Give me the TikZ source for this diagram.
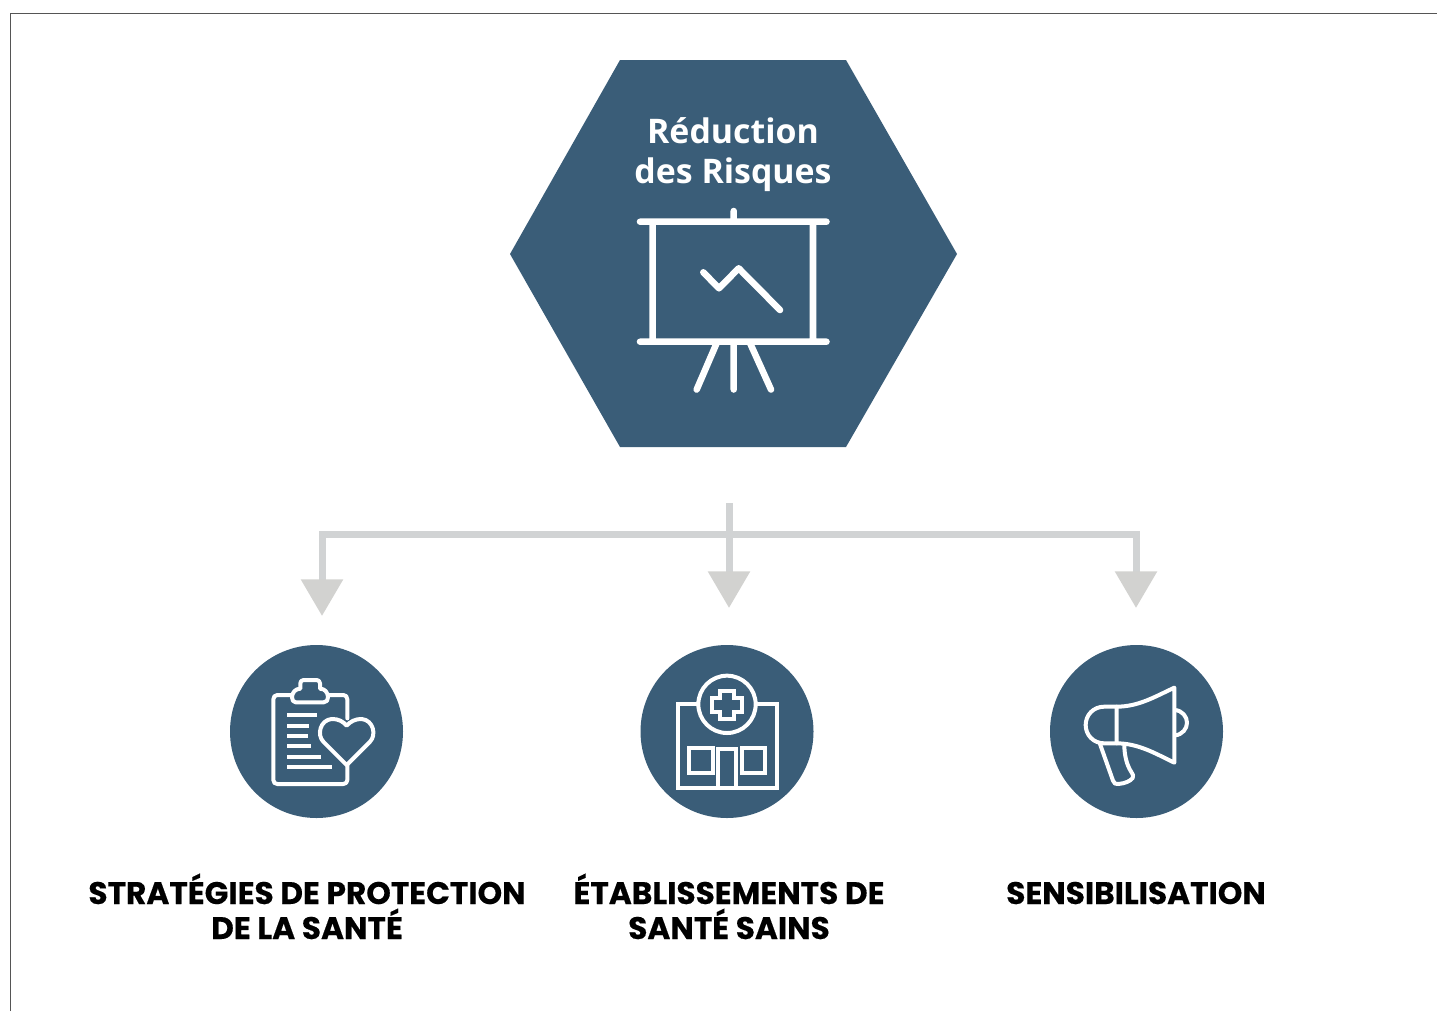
\documentclass[tikz,border=0pt]{standalone}
\usepackage{fontspec}
\usetikzlibrary{arrows.meta}
\setmainfont{Open Sans}
\newfontfamily\labelfont{Poppins}[BoldFeatures={FakeBold=0.35}]
\definecolor{blueslate}{HTML}{3A5D78}
\definecolor{barcol}{HTML}{D1D3D4}
\definecolor{headcol}{HTML}{D2D2D0}
\definecolor{framecol}{HTML}{555555}
\tikzset{
  conn/.style={draw=barcol,line width=5.25pt,line join=miter,
    -{Triangle[length=27.5pt,width=30.5pt,fill=headcol,color=headcol]}},
  disc/.style={circle,fill=blueslate,minimum size=129.75pt,inner sep=0pt},
  icon/.style={draw=white,line width=3pt,line cap=round,line join=round},
  board/.style={draw=white,line width=4.9pt,line cap=round,line join=round},
  caption/.style={font=\labelfont\bfseries\fontsize{23.4}{26.25}\selectfont,align=center,text=black,inner sep=0pt,anchor=base},
  title/.style={font=\bfseries\fontsize{25.4}{30}\selectfont,align=center,text=white,inner sep=0pt}
}
\begin{document}
\begin{tikzpicture}[x=0.75pt,y=-0.75pt]
\useasboundingbox (0,0) rectangle (1437,1011);
% frame
\draw[framecol,line width=0.75pt] (10,1011) -- (10,13) -- (1437,13);
% hexagon
\fill[blueslate] (620,60) -- (846,60) -- (957,254) -- (846,447) -- (620,447) -- (510,254) -- cycle;
\node[title] (hextitle) at (733,154.5) {Réduction\\des Risques};
% presentation board
\draw[board] (640,221.7) -- (826.5,221.7) (640,341.7) -- (826.5,341.7)
  (652.7,221.7) -- (652.7,341.7) (813,221.7) -- (813,341.7)
  (733.7,211) -- (733.7,221.7)
  (733.7,341.7) -- (733.7,389.5)
  (716.7,343) -- (696.7,389.5) (750,343) -- (771,389.5);
\draw[board] (703.3,272.3) -- (719,288.3) -- (738.7,268.3) -- (780,310);
% connectors
\coordinate (stem) at (729,503);
\coordinate (hub) at (729,534.5);
\coordinate (tipL) at (322,616);
\coordinate (tipC) at (729,608);
\coordinate (tipR) at (1136,608);
\draw[conn] (stem) -- (tipC);
\draw[conn] (hub) -| (tipL);
\draw[conn] (hub) -| (tipR);
% discs
\node[disc] (d1) at (316.5,731.5) {};
\node[disc] (d2) at (727,731.5) {};
\node[disc] (d3) at (1136.5,731.5) {};
% clipboard
\begin{scope}[shift={(225,640)},x=0.25pt,y=-0.25pt]
\draw[icon] (367,235) -- (367,178) .. controls (367,170) and (362,165) .. (355,165) -- (310,165)
  (200,165) -- (157,165) .. controls (150,165) and (145,170) .. (145,178) -- (145,420)
  .. controls (145,427) and (150,432) .. (157,432) -- (355,432) .. controls (362,432) and (367,427) .. (367,420) -- (367,375);
\draw[icon] (212,187) -- (296,187) .. controls (305,187) and (309,180) .. (309,172) .. controls (309,158) and (300,146) .. (285,146)
  -- (285,130) .. controls (285,124) and (280,120) .. (275,120) -- (236,120) .. controls (230,120) and (226,124) .. (226,130)
  -- (226,146) .. controls (211,146) and (201,158) .. (201,172) .. controls (201,180) and (205,187) .. (212,187) -- cycle;
\draw[icon,line cap=butt] (187,225) -- (277,225) (187,257) -- (253,257) (187,288) -- (249,288)
  (187,319) -- (259,319) (187,350) -- (289,350) (187,381) -- (322,381);
\draw[icon] (365,375) -- (295,305) .. controls (275,285) and (285,240) .. (320,237)
  .. controls (340,236) and (355,245) .. (365,257) .. controls (375,245) and (392,236) .. (410,237)
  .. controls (445,240) and (455,285) .. (435,305) -- cycle;
\end{scope}
% hospital
\begin{scope}[shift={(635,640)},x=0.25pt,y=-0.25pt]
\begin{scope}[icon,line cap=butt,line join=miter]
\draw (190,193) -- (128,193) -- (128,445) -- (425,445) -- (425,193) -- (362,193);
\draw (276,193) circle[radius=86];
\draw (254,152) -- (298,152) -- (298,173) -- (322,173) -- (322,215) -- (298,215) -- (298,238) -- (254,238) -- (254,215) -- (230,215) -- (230,173) -- (254,173) -- cycle;
\draw (162,325) rectangle (235,400);
\draw (320,325) rectangle (390,400);
\draw (250,328) rectangle (302,445);
\end{scope}
\end{scope}
% megaphone
\begin{scope}[shift={(1045,640)},x=0.25pt,y=-0.25pt]
\draw[icon] (215,200) .. controls (280,200) and (330,170) .. (388,143) -- (388,368)
  .. controls (330,340) and (280,310) .. (215,310) -- cycle;
\draw[icon] (215,200) -- (178,200) .. controls (145,200) and (122,225) .. (122,255)
  .. controls (122,285) and (145,310) .. (178,310) -- (215,310);
\draw[icon] (390,210) .. controls (412,212) and (426,230) .. (426,248) .. controls (426,266) and (412,284) .. (390,286);
\draw[icon] (165,312) -- (204,422) .. controls (207,431) and (212,433) .. (220,432)
  .. controls (240,430) and (255,424) .. (263,414) .. controls (266,408) and (264,402) .. (259,396)
  .. controls (245,375) and (238,345) .. (238,315);
\end{scope}
% captions
\node[caption] (c1) at (307,939) {STRATÉGIES DE PROTECTION\\DE LA SANTÉ};
\node[caption] (c2) at (729,939) {ÉTABLISSEMENTS DE\\SANTÉ SAINS};
\node[caption] (c3) at (1136,904) {SENSIBILISATION};
\end{tikzpicture}
\end{document}
